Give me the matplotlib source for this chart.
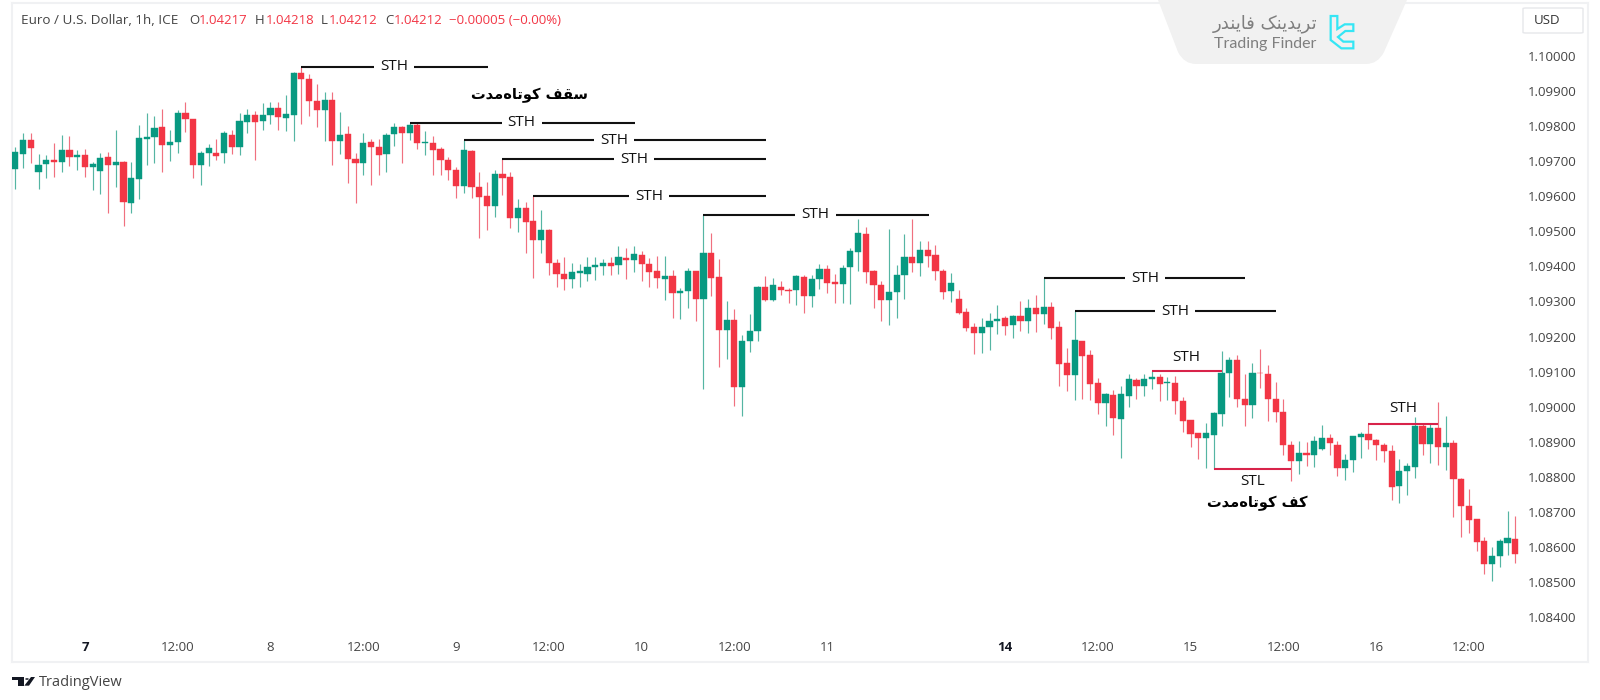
import numpy as np
import matplotlib
matplotlib.use('Agg')
import matplotlib.pyplot as plt
from matplotlib.patches import FancyBboxPatch, PathPatch, Polygon, Circle
from matplotlib.path import Path

plt.rcParams['font.family'] = ['Open Sans', 'DejaVu Sans']

# candle values, in 1e-5 of a price
highs = [109739,109780,109780,109720,109717,109753,109775,109773,109731,109734,
         109699,109722,109725,109788,109701,109697,109804,109837,109829,109848,
         109790,109845,109870,109821,109729,109748,109763,109786,109789,109838,
         109848,109842,109867,109870,109870,109890,109955,109969,109948,109919,
         109896,109896,109839,109801,109722,109780,109763,109763,109781,109808,
         109800,109810,109810,109785,109773,109740,109713,109684,109760,109732,
         109669,109642,109676,109706,109669,109591,109584,109600,109560,109506,
         109420,109426,109411,109408,109426,109426,109420,109428,109459,109453,
         109459,109445,109423,109431,109431,109391,109338,109395,109388,109547,
         109496,109421,109300,109279,109205,109265,109343,109374,109367,109359,
         109338,109376,109376,109376,109406,109403,109378,109403,109452,109535,
         109511,109391,109359,109506,109404,109491,109535,109473,109471,109460,
         109392,109381,109333,109281,109240,109253,109267,109289,109258,109262,
         109302,109308,109317,109366,109299,109244,109166,109272,109188,109163,
         109082,109040,109048,109059,109093,109081,109092,109101,109093,109085,
         109088,109029,108961,108926,108953,108986,109160,109143,109148,109092,
         109124,109165,109119,109070,109022,108902,108902,108900,108917,108947,
         108922,108901,108864,108916,108928,108950,108909,108897,108892,108852,
         108840,108971,108951,108951,109012,108973,108906,108798,108766,108680,
         108628,108600,108624,108703,108689]
tops = [109725,109761,109761,109690,109703,109703,109732,109732,109717,109717,
        109693,109710,109712,109697,109698,109651,109765,109768,109795,109797,
        109756,109837,109837,109819,109722,109737,109722,109780,109775,109814,
        109831,109831,109831,109853,109851,109834,109950,109950,109935,109872,
        109874,109874,109775,109778,109706,109753,109756,109739,109775,109798,
        109798,109804,109803,109754,109751,109735,109703,109674,109732,109730,
        109625,109601,109664,109663,109655,109566,109566,109529,109504,109504,
        109411,109379,109384,109386,109399,109404,109411,109411,109428,109425,
        109434,109433,109406,109387,109372,109372,109331,109387,109387,109437,
        109437,109369,109246,109246,109187,109216,109341,109340,109347,109340,
        109334,109373,109370,109364,109393,109393,109355,109396,109443,109494,
        109491,109387,109348,109328,109376,109428,109428,109447,109447,109433,
        109387,109353,109306,109270,109228,109228,109243,109250,109253,109258,
        109258,109282,109280,109284,109284,109226,109124,109189,109187,109146,
        109068,109037,109034,109037,109080,109076,109080,109085,109085,109070,
        109068,109017,108961,108925,108924,108981,109097,109133,109133,109023,
        109097,109097,109094,109023,108984,108890,108869,108869,108903,108910,
        108910,108892,108849,108915,108922,108922,108905,108891,108875,108817,
        108830,108944,108944,108939,108939,108897,108897,108793,108718,108679,
        108616,108574,108616,108625,108623]
bottoms = [109677,109721,109738,109670,109691,109697,109697,109711,109711,109682,
           109682,109672,109689,109689,109584,109582,109648,109764,109769,109745,
           109745,109756,109820,109688,109688,109722,109716,109722,109741,109741,
           109813,109813,109814,109831,109826,109823,109833,109935,109872,109847,
           109847,109758,109758,109707,109694,109694,109741,109719,109721,109777,
           109780,109780,109751,109752,109733,109704,109674,109628,109628,109627,
           109599,109573,109572,109653,109539,109539,109527,109476,109476,109410,
           109379,109363,109363,109380,109378,109398,109402,109402,109403,109417,
           109417,109407,109385,109366,109363,109324,109325,109331,109308,109308,
           109366,109220,109220,109055,109055,109187,109215,109303,109304,109332,
           109330,109332,109315,109315,109363,109352,109350,109349,109397,109442,
           109383,109347,109305,109305,109327,109376,109410,109410,109431,109388,
           109327,109329,109268,109224,109210,109210,109226,109243,109231,109232,
           109244,109244,109263,109263,109224,109123,109089,109091,109145,109064,
           109011,109011,108967,108966,109030,109058,109060,109080,109066,109068,
           109016,108960,108923,108911,108911,108918,108980,109096,109023,109006,
           109006,109096,109022,108984,108890,108846,108846,108863,108863,108880,
           108896,108826,108826,108847,108913,108905,108890,108874,108770,108773,
           108817,108828,108894,108894,108885,108885,108793,108717,108678,108615,
           108552,108552,108574,108612,108580]
lows = [109622,109680,109696,109622,109651,109655,109670,109685,109675,109655,
        109619,109606,109553,109626,109514,109553,109592,109689,109696,109670,
        109701,109724,109783,109652,109633,109687,109704,109696,109720,109719,
        109781,109702,109789,109807,109789,109786,109758,109806,109828,109797,
        109758,109690,109721,109638,109582,109660,109633,109660,109670,109742,
        109696,109760,109736,109717,109660,109661,109645,109594,109609,109594,
        109481,109505,109542,109603,109510,109497,109437,109366,109438,109376,
        109342,109334,109338,109340,109359,109360,109376,109375,109379,109363,
        109385,109358,109342,109337,109303,109253,109249,109280,109244,109050,
        109315,109113,109137,109002,108973,109157,109186,109302,109300,109317,
        109297,109290,109266,109285,109335,109324,109297,109297,109293,109388,
        109354,109280,109244,109232,109254,109307,109383,109373,109397,109361,
        109307,109298,109264,109217,109150,109154,109161,109206,109203,109196,
        109217,109209,109212,109236,109193,109059,109044,109018,109021,109020,
        108980,108945,108919,108854,108998,109021,109030,109051,109016,109020,
        108979,108928,108884,108852,108824,108822,108945,109029,108999,108945,
        108967,109054,108959,108956,108863,108789,108809,108830,108828,108877,
        108862,108802,108792,108814,108854,108878,108847,108842,108733,108724,
        108747,108797,108861,108839,108834,108820,108686,108629,108641,108588,
        108524,108504,108543,108576,108554]
# G = up candle, R = down candle
directions = ('GGRGGRGRGR' 'GGRGRGGGGR' 'GGRRGGRGRG' 'GRGGRGGRRR' 'GRGRRGRRGG'
              'RGRGRRRRGR' 'RRGRRGRRGR' 'RRGGGGGRGR' 'GRRRGRGGRG' 'RRGRGGGRGR'
              'RGRGGRRGGG' 'RRRGGGRGRR' 'RGRRRGGGRG' 'RGRGRRRGRR' 'RGRGGRGGRG'
              'RRRRGGGGRR' 'GRRRRRGRGG' 'RRGGGRRRRG' 'GGRGRGRRRR' 'RGGGR')

price_ticks = [1.10, 1.099, 1.098, 1.097, 1.096, 1.095, 1.094, 1.093, 1.092,
               1.091, 1.09, 1.089, 1.088, 1.087, 1.086, 1.085, 1.084]
time_ticks = [9, 21, 33, 45, 57, 69, 81, 93, 105, 128, 140, 152, 164, 176, 188]
time_labels = ['7', '12:00', '8', '12:00', '9', '12:00', '10', '12:00', '11',
               '14', '12:00', '15', '12:00', '16', '12:00']
bold_labels = ['7', '14']

# level lines: start candle, end candle, price, label candle, label
black_levels = [(37, 61.1, 1.09969, 48.97, 'STH'),
                (51, 80.1, 1.09810, 65.48, 'STH'),
                (58, 97.1, 1.09760, 77.46, 'STH'),
                (63, 97.1, 1.09706, 80.0, 'STH'),
                (67, 97.1, 1.09600, 81.95, 'STH'),
                (89, 118.2, 1.09547, 103.5, 'STH'),
                (133, 159.1, 1.09366, 146.1, 'STH'),
                (137, 163.1, 1.09272, 150.0, 'STH')]
# red lines: start candle, end candle, price, label candle, label price, label
red_levels = [(147, 156, 1.09101, 151.5, 1.09139, 'STH'),
              (155, 165, 1.08822, 160.0, 1.08787, 'STL'),
              (175, 184, 1.08950, 179.5, 1.08994, 'STH')]
# drawn left to right, so written in shaped forms and reversed
roof_label = '\ufeb3\ufed8\ufed2 \ufb90\ufeee\ufe97\ufe8e\ufee9\ufee3\ufeaa\ufe95'[::-1]
floor_label = '\ufb90\ufed2 \ufb90\ufeee\ufe97\ufe8e\ufee9\ufee3\ufeaa\ufe95'[::-1]
logo_label = '\ufe97\ufeae\ufef3\ufeaa\ufef3\ufee8\ufb8f \ufed3\ufe8e\ufef3\ufee8\ufeaa\ufead'[::-1]

GREEN = '#089981'
RED = '#f23645'
GREEN_WICK = '#55b5a3'
RED_WICK = '#f0707f'
FRAME = '#f0f1f3'
W, H = 1600, 700


def px(x, y):
    return x / W, 1 - y / H


fig = plt.figure(figsize=(16, 7), dpi=100, facecolor='white')
ax = fig.add_axes([12 / W, (H - 662) / H, 1576 / W, 659 / H])
ax.set_xlim(-0.43, 203.4)
ax.set_ylim(1.08272, 1.10151)

x = np.arange(len(highs))
is_up = np.array([c == 'G' for c in directions])
high = np.array(highs) / 1e5
low = np.array(lows) / 1e5
top = np.array(tops) / 1e5
bottom = np.array(bottoms) / 1e5

ax.vlines(x[is_up], low[is_up], high[is_up], color=GREEN_WICK, lw=0.85, zorder=2)
ax.vlines(x[~is_up], low[~is_up], high[~is_up], color=RED_WICK, lw=0.85, zorder=2)
ax.bar(x[is_up], (top - bottom)[is_up], bottom=bottom[is_up], width=0.8,
       color=GREEN, edgecolor=GREEN, lw=0.3, zorder=3)
ax.bar(x[~is_up], (top - bottom)[~is_up], bottom=bottom[~is_up], width=0.8,
       color=RED, edgecolor=RED, lw=0.3, zorder=3)

gap = 2.6
for start, end, price, mid, name in black_levels:
    ax.hlines(price, start, mid - gap, color='#111111', lw=1.5, zorder=4)
    ax.hlines(price, mid + gap, end, color='#111111', lw=1.5, zorder=4)
    ax.text(mid, price, name, ha='center', va='center', fontsize=11, color='#111111')
for start, end, price, mid, text_price, name in red_levels:
    ax.hlines(price, start, end, color='#d8234a', lw=1.5, zorder=4)
    ax.text(mid, text_price, name, ha='center', va='center', fontsize=11, color='#111111')

ax.text(66.55, 1.09889, roof_label, ha='center', va='center', fontsize=10.5,
        fontweight='bold', family='DejaVu Sans', color='black')
ax.text(160.6, 1.08725, floor_label, ha='center', va='center', fontsize=10.5,
        fontweight='bold', family='DejaVu Sans', color='black')

# axes, tick labels sit inside the frame like the TradingView chart
ax.yaxis.tick_right()
ax.set_yticks(price_ticks)
ax.set_yticklabels(['%.5f' % p for p in price_ticks])
ax.tick_params(axis='y', length=0, pad=-43, labelsize=9.5, labelcolor='#444444')
ax.set_xticks(time_ticks)
ax.set_xticklabels(time_labels)
ax.tick_params(axis='x', length=0, pad=-15, labelsize=9.5, labelcolor='#444444')
for tl in ax.get_xticklabels():
    if tl.get_text() in bold_labels:
        tl.set_fontweight('bold')
        tl.set_color('#131722')
for side in ax.spines.values():
    side.set_color(FRAME)
    side.set_linewidth(1.5)

# legend line at the top
fig.text(*px(21, 20), 'Euro / U.S. Dollar, 1h, ICE', fontsize=9.7, color='#444444', va='center')
head_items = [(189, 'O', '#444444'), (199, '1.04217', RED),
              (255, 'H', '#444444'), (266, '1.04218', RED),
              (321, 'L', '#444444'), (329, '1.04212', RED),
              (385, 'C', '#444444'), (394, '1.04212', RED),
              (449, '\u22120.00005 (\u22120.00%)', RED)]
for hx, txt, col in head_items:
    fig.text(*px(hx, 20), txt, fontsize=9.5, color=col, va='center')

# USD box
fig.patches.append(FancyBboxPatch(px(1523, 33), 60 / W, 25 / H, boxstyle='round,pad=0,rounding_size=0.002',
                                  transform=fig.transFigure, mutation_aspect=H / W,
                                  fc='white', ec='#e6e7ea', lw=1))
fig.text(*px(1547, 20), 'USD', fontsize=9.5, color='#333333', ha='center', va='center')

# watermark tab
tab_verts = [px(*p) for p in [(1158, 0), (1407, 0), (1384, 52), (1378, 64), (1366, 64),
                              (1196, 64), (1184, 64), (1178, 52), (1158, 0)]]
tab_codes = [Path.MOVETO, Path.LINETO, Path.LINETO, Path.CURVE3, Path.CURVE3,
             Path.LINETO, Path.CURVE3, Path.CURVE3, Path.LINETO]
fig.patches.append(PathPatch(Path(tab_verts, tab_codes), transform=fig.transFigure,
                             fc='#f1f1f1', ec='none', zorder=5))
fig.text(*px(1265, 24), logo_label, fontsize=13, family='DejaVu Sans', color='#7f7f7f',
         ha='center', va='center', zorder=6)
fig.text(*px(1265, 44), 'Trading Finder', fontsize=11.5, family='Lato', color='#7f7f7f',
         ha='center', va='center', zorder=6)
icon = [(62, 33), (82, 33), (82, 72), (104, 58), (130, 58), (130, 78), (106, 78), (84, 96),
        (100, 110), (130, 110), (130, 130), (94, 130), (62, 105)]
fig.patches.append(Polygon([px(1310 + a / 3, 5 + b / 3) for a, b in icon], closed=True,
                           transform=fig.transFigure, fc='none', ec='#35e6f5', lw=1.6, zorder=6))

# TradingView mark
tv_a = [(22, 27), (56, 27), (56, 53), (38, 53), (38, 37), (22, 37)]
tv_b = [(78, 27), (90, 27), (72, 53), (58, 53)]
for shape in (tv_a, tv_b):
    fig.patches.append(Polygon([px(5 + a / 3, 668 + b / 3) for a, b in shape], closed=True,
                               transform=fig.transFigure, fc='#131722', ec='none'))
fig.patches.append(Circle(px(5 + 66 / 3, 668 + 33 / 3), 1.8 / W, transform=fig.transFigure,
                          fc='#131722', ec='none'))
fig.text(*px(39, 682), 'TradingView', fontsize=10.5, color='#444444', va='center')

fig.savefig('out.png', dpi=100)
